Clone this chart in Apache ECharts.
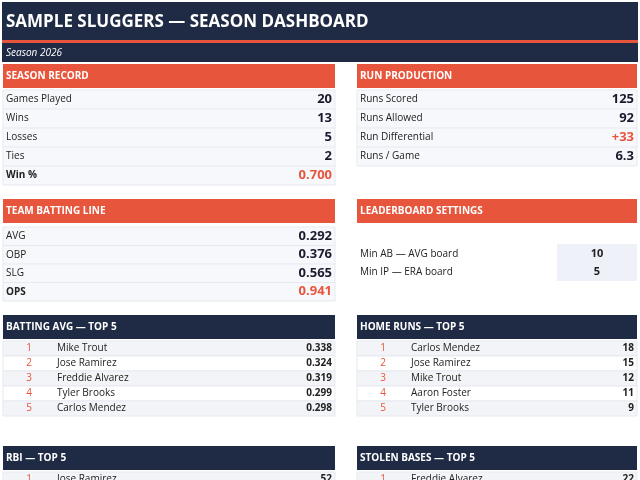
<!DOCTYPE html>
<html><head><meta charset="utf-8">
<script src="https://cdn.jsdelivr.net/npm/echarts@6/dist/echarts.min.js"></script>
<style>html,body{margin:0;padding:0;background:#fff}#c{width:640px;height:480px}</style>
</head><body><div id="c"></div>
<script>
const title = "SAMPLE SLUGGERS — SEASON DASHBOARD";
const subtitle = "Season 2026";
const recordLabels = ["Games Played","Wins","Losses","Ties","Win %"];
const recordValues = ["20","13","5","2","0.700"];
const runLabels = ["Runs Scored","Runs Allowed","Run Differential","Runs / Game"];
const runValues = ["125","92","+33","6.3"];
const battingLabels = ["AVG","OBP","SLG","OPS"];
const battingValues = ["0.292","0.376","0.565","0.941"];
const settingLabels = ["Min AB — AVG board","Min IP — ERA board"];
const settingValues = ["10","5"];
const avgNames = ["Mike Trout","Jose Ramirez","Freddie Alvarez","Tyler Brooks","Carlos Mendez"];
const avgValues = ["0.338","0.324","0.319","0.299","0.298"];
const hrNames = ["Carlos Mendez","Jose Ramirez","Mike Trout","Aaron Foster","Tyler Brooks"];
const hrValues = ["18","15","12","11","9"];
const rbiNames = ["Jose Ramirez"];
const rbiValues = ["52"];
const sbNames = ["Freddie Alvarez"];
const sbValues = ["22"];

const NAVY="#1f2a44", ORANGE="#e8553d", FONT="'Open Sans', 'Noto Sans', sans-serif";
const g=[];
function rect(x,y,w,h,fill,stroke){g.push({type:'rect',shape:{x,y,width:w,height:h},style:{fill,stroke:stroke||null,lineWidth:stroke?1:0},silent:true});}
function text(x,y,t,o){o=o||{};g.push({type:'text',x,y,style:{text:t,fill:o.fill||'#222',font:(o.italic?'italic ':'')+(o.bold?'bold ':'')+(o.size||10)+'px '+FONT,textAlign:o.align||'left',textVerticalAlign:'middle'},silent:true});}

rect(2,2,636,38,NAVY);
text(6,22,title,{fill:'#fff',bold:true,size:17});
rect(2,40,636,3,ORANGE);
rect(2,43,636,19,NAVY);
text(6,53,subtitle,{fill:'#fff',italic:true,size:10});

function kv(x,w,y0,labels,values,step,lastRed,redIdx){
  rect(x,y0,w,labels.length*step,'#f6f8fb','#e6e9ef');
  labels.forEach((l,i)=>{
    const y=y0+step*i+step/2;
    if(i>0) g.push({type:'line',shape:{x1:x,y1:y0+step*i,x2:x+w,y2:y0+step*i},style:{stroke:'#e6e9ef',lineWidth:1},silent:true});
    const last=lastRed&&i===labels.length-1;
    text(x+3,y,l,{bold:last,size:10});
    text(x+w-3,y,values[i],{bold:true,size:13,fill:(last||i===redIdx)?ORANGE:'#1a1a2e',align:'right'});
  });
}
function header(x,y,w,t,fill){rect(x,y,w,24,fill);text(x+3,y+12,t,{fill:'#fff',bold:true,size:10});}

header(3,64,332,"SEASON RECORD",ORANGE);
kv(3,332,90,recordLabels,recordValues,19,true,-1);
header(357,64,280,"RUN PRODUCTION",ORANGE);
kv(357,280,90,runLabels,runValues,19,false,2);
header(3,199,332,"TEAM BATTING LINE",ORANGE);
kv(3,332,227,battingLabels,battingValues,18.5,true,-1);
header(357,199,280,"LEADERBOARD SETTINGS",ORANGE);
rect(557,244,80,37,'#eef1f8');
settingLabels.forEach((l,i)=>{text(360,254+18*i,l,{size:10});text(597,254+18*i,settingValues[i],{bold:true,size:11,align:'center'});});

function board(x,w,y,t,names,vals){
  header(x,y,w,t,NAVY);
  const y0=y+26;
  names.forEach((n,i)=>{
    rect(x,y0+15*i,w,15,i%2===0?'#f2f4f7':'#ffffff','#e6e9ef');
    const cy=y0+15*i+7.5;
    text(x+26,cy,String(i+1),{fill:ORANGE,size:10,align:'center'});
    text(x+54,cy,n,{size:10});
    text(x+w-3,cy,vals[i],{bold:true,size:10,align:'right'});
  });
}
board(3,332,315,"BATTING AVG — TOP 5",avgNames,avgValues);
board(357,280,315,"HOME RUNS — TOP 5",hrNames,hrValues);
board(3,332,446,"RBI — TOP 5",rbiNames,rbiValues);
board(357,280,446,"STOLEN BASES — TOP 5",sbNames,sbValues);

const chart=echarts.init(document.getElementById('c'));
chart.setOption({animation:false,graphic:{elements:g}});
</script></body></html>
